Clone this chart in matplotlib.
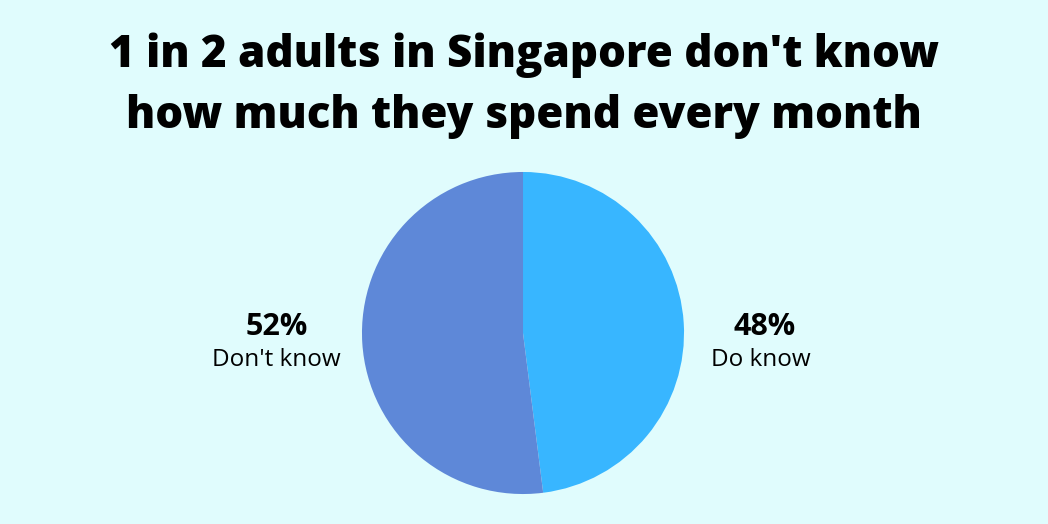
import matplotlib.pyplot as plt

labels = ["Do know", "Don't know"]
shares = [48, 52]
colors = ["#38b6ff", "#5e88d8"]
bg = "#e0fcfd"

fig = plt.figure(figsize=(10.48, 5.24), dpi=100)
fig.patch.set_facecolor(bg)

fig.text(0.5, 0.872, "1 in 2 adults in Singapore don't know", ha="center", va="baseline",
         fontsize=31.6, fontweight="heavy", family="Open Sans")
fig.text(0.5, 0.755, "how much they spend every month", ha="center", va="baseline",
         fontsize=31.6, fontweight="heavy", family="Open Sans")

ax = fig.add_axes([0.499 - 0.1536, 0.3645 - 0.3073, 0.3073, 0.6146])
ax.set_facecolor(bg)
ax.pie(shares, colors=colors, startangle=90, counterclock=False,
       wedgeprops=dict(linewidth=0))
ax.set_aspect("equal")
ax.set_xlim(-1, 1)
ax.set_ylim(-1, 1)
ax.axis("off")

# labels beside the pie
fig.text(0.730, 0.361, f"{shares[0]}%", ha="center", va="baseline",
         fontsize=22, fontweight="bold", family="Open Sans")
fig.text(0.726, 0.302, labels[0], ha="center", va="baseline",
         fontsize=17.5, family="Open Sans")
fig.text(0.264, 0.361, f"{shares[1]}%", ha="center", va="baseline",
         fontsize=22, fontweight="bold", family="Open Sans")
fig.text(0.264, 0.302, labels[1], ha="center", va="baseline",
         fontsize=17.5, family="Open Sans")

fig.savefig("out.png", dpi=100, facecolor=bg)
